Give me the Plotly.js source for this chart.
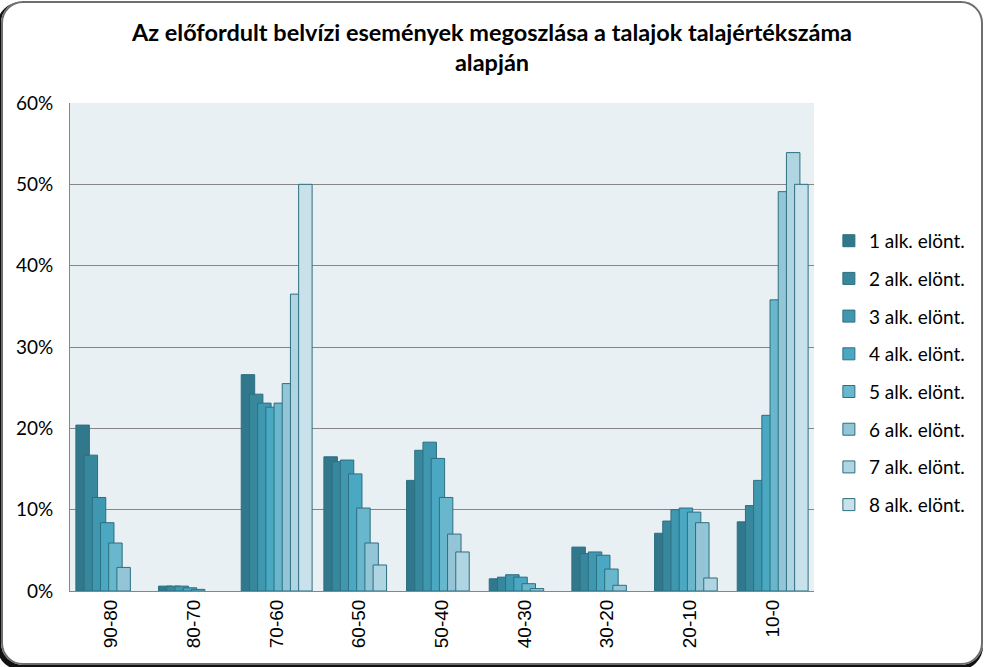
<!DOCTYPE html>
<html>
<head>
<meta charset="utf-8">
<script src="https://cdn.plot.ly/plotly-3.0.1.min.js"></script>
<style>
  html, body { margin: 0; padding: 0; background: #fff; }
  #wrap { position: relative; width: 984px; height: 667px; overflow: hidden; }
  #chart { position: absolute; left: 0; top: 0; width: 984px; height: 667px; }
  #frame {
    position: absolute; left: 1px; top: 1px; width: 978px; height: 660px;
    border: 2px solid #6e6e6e; border-radius: 22px;
    box-shadow: -2px 3px 0 2px #111;
    pointer-events: none;
  }
</style>
</head>
<body>
<div id="wrap">
  <div id="chart"></div>
  <div id="frame"></div>
</div>
<script>
// talajértékszám kategóriák
const categories = ['90-80', '80-70', '70-60', '60-50', '50-40', '40-30', '30-20', '20-10', '10-0'];

const seriesNames = ['1 alk. elönt.', '2 alk. elönt.', '3 alk. elönt.', '4 alk. elönt.',
                     '5 alk. elönt.', '6 alk. elönt.', '7 alk. elönt.', '8 alk. elönt.'];

// values in %
const alk1 = [20.4, 0.6, 26.6, 16.5, 13.6, 1.5, 5.4, 7.1, 8.5];
const alk2 = [16.7, 0.6, 24.2, 15.9, 17.3, 1.7, 4.6, 8.6, 10.5];
const alk3 = [11.5, 0.6, 23.1, 16.1, 18.3, 2.0, 4.8, 10.0, 13.6];
const alk4 = [8.4, 0.4, 22.6, 14.4, 16.3, 1.7, 4.4, 10.2, 21.6];
const alk5 = [5.9, 0.2, 23.1, 10.2, 11.5, 0.9, 2.7, 9.7, 35.8];
const alk6 = [2.9, 0.0, 25.5, 5.9, 7.0, 0.3, 0.7, 8.4, 49.1];
const alk7 = [0.0, 0.0, 36.5, 3.2, 4.8, 0.0, 0.0, 1.6, 53.9];
const alk8 = [0.0, 0.0, 50.0, 0.0, 0.0, 0.0, 0.0, 0.0, 50.0];

const allSeries = [alk1, alk2, alk3, alk4, alk5, alk6, alk7, alk8];
const colors = ['#31788c', '#38889d', '#3f98b0', '#4aa8c3', '#68b7cd', '#93c5d7', '#afd4e2', '#c9e1eb'];

// overlapping columns, like the excel original
const barW = 0.163;
const step = 0.0992;
const start = -(7 * step + barW) / 2;

const traces = allSeries.map((vals, i) => ({
  type: 'bar',
  name: seriesNames[i],
  x: categories,
  // zero bars are not drawn in the original (no outline either)
  y: vals.map(v => v === 0 ? null : v / 100),
  width: barW,
  offset: start + i * step,
  legendgroup: 'g' + i,
  marker: { color: colors[i], line: { color: '#2d6e80', width: 1 } },
  hoverinfo: 'name+y'
}));

const layout = {
  width: 984,
  height: 667,
  barmode: 'overlay',
  paper_bgcolor: 'rgba(0,0,0,0)',
  plot_bgcolor: '#e9f0f4',
  margin: { l: 70, r: 170, t: 103, b: 76 },
  font: { family: 'Lato, Carlito, sans-serif', color: '#000' },
  title: {
    text: '<b>Az előfordult belvízi események megoszlása a talajok talajértékszáma<br>alapján</b>',
    font: { size: 23.5, family: 'Lato, sans-serif' },
    x: 0.5, xanchor: 'center', y: 0.939, yanchor: 'middle'
  },
  xaxis: {
    type: 'category',
    tickangle: -90,
    tickfont: { size: 19, family: 'Liberation Sans, Arial, sans-serif' },
    showline: true, linecolor: '#868686', linewidth: 1,
    ticks: '', showgrid: false, zeroline: false,
    range: [-0.5, categories.length - 0.5]
  },
  yaxis: {
    range: [0, 0.6],
    tickvals: [0, 0.1, 0.2, 0.3, 0.4, 0.5, 0.6],
    tickformat: '.0%',
    tickfont: { size: 19 },
    showgrid: true, gridcolor: '#868686', gridwidth: 1,
    showline: true, linecolor: '#868686', linewidth: 1,
    zeroline: false, ticks: '', ticklabelstandoff: 12
  },
  legend: {
    x: 1.02, xanchor: 'left', y: 0.447, yanchor: 'middle',
    font: { size: 19 },
    tracegroupgap: 10,
    traceorder: 'grouped',
    bgcolor: 'rgba(0,0,0,0)'
  },
  showlegend: true
};

Plotly.newPlot('chart', traces, layout, { displayModeBar: false, staticPlot: true });
</script>
</body>
</html>
